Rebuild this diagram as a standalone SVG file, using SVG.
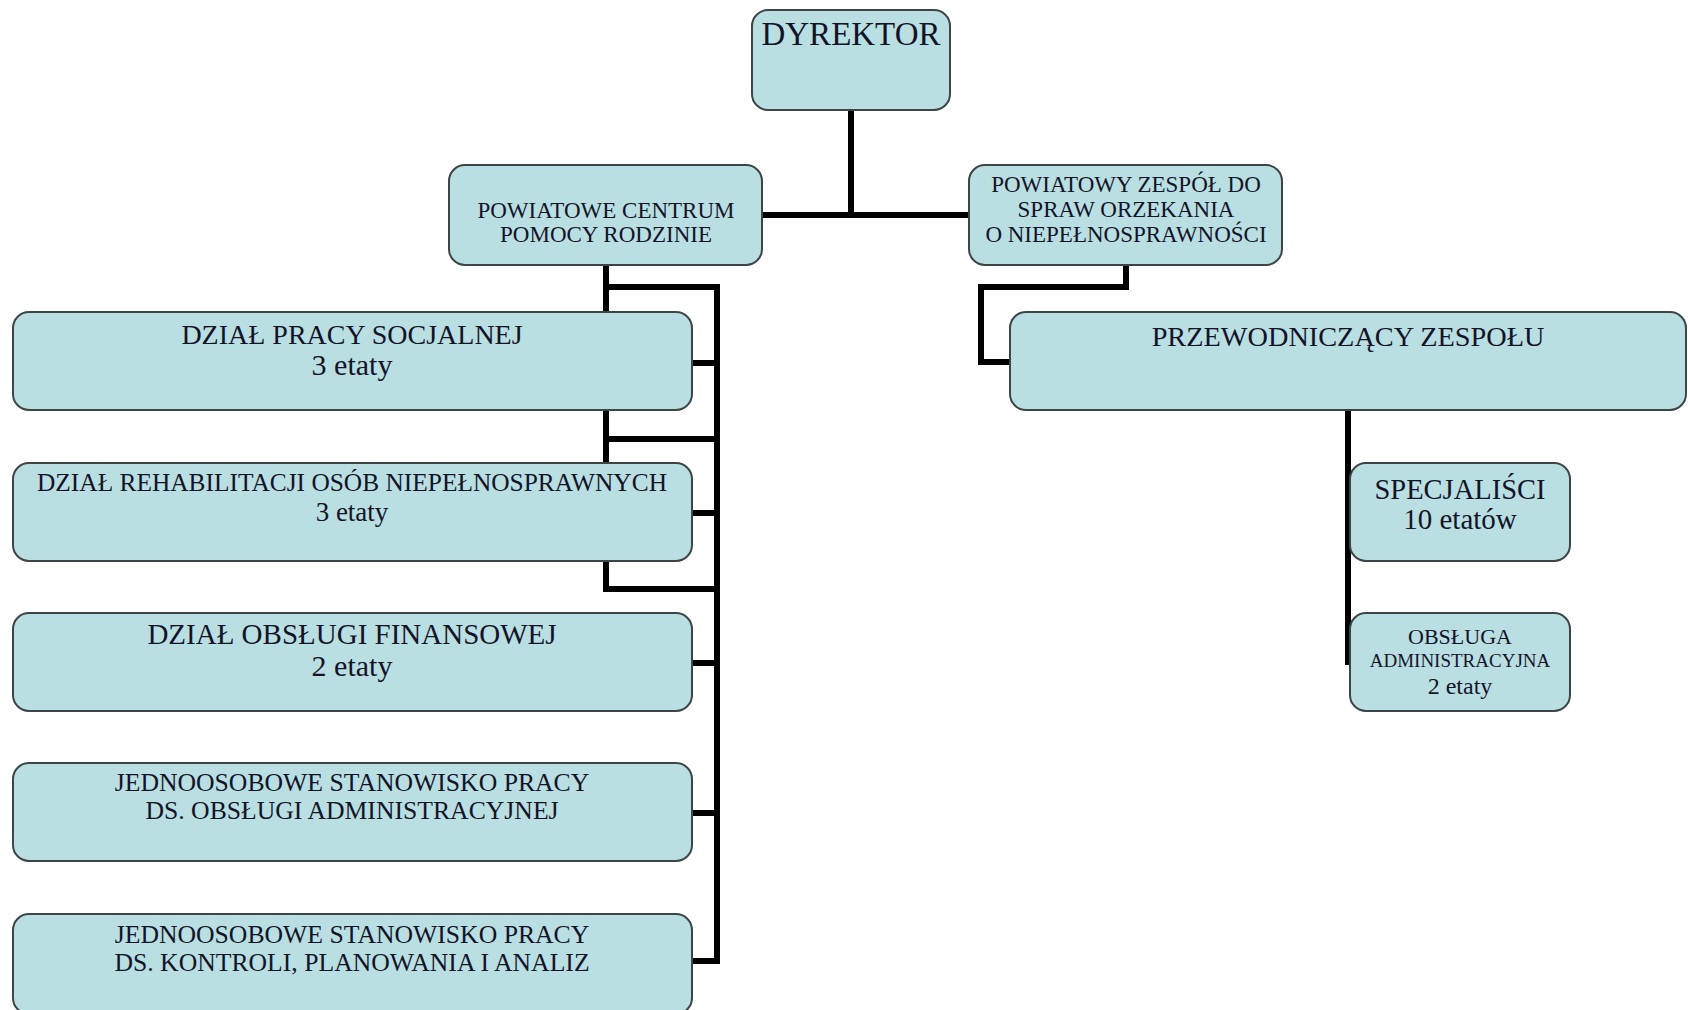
<svg xmlns="http://www.w3.org/2000/svg" width="1688" height="1010" viewBox="0 0 1688 1010">
<style>
.box{fill:#b9dfe3;stroke:#3d4547;stroke-width:2}
.t{font-family:"Liberation Serif","Times New Roman",serif;fill:#141428;text-anchor:middle}
.c{fill:none;stroke:#000;stroke-width:6;stroke-linejoin:miter;stroke-linecap:butt}
</style>
<rect width="1688" height="1010" fill="#fff"/>
<g id="connectors">
<path class="c" d="M851 110 V215 M762 215 H969"/>
<path class="c" d="M606 265 V589 M603 287 H717 M603 439 H717 M603 589 H717 M717 284 V964"/>
<path class="c" d="M692 363 H717 M692 513 H717 M692 663 H717 M692 813 H717 M692 961 H720"/>
<path class="c" d="M1126 265 V287 H981 V362 H1010"/>
<path class="c" d="M1348 410 V665"/>
</g>
<g id="dyrektor"><rect class="box" x="752" y="10" width="198" height="100" rx="16"/><text class="t" x="851" y="45" font-size="33">DYREKTOR</text></g>
<g id="pcpr"><rect class="box" x="449" y="165" width="313" height="100" rx="16"/><text class="t" x="606" y="218" font-size="23">POWIATOWE CENTRUM</text><text class="t" x="606" y="242" font-size="23">POMOCY RODZINIE</text></g>
<g id="pzon"><rect class="box" x="969" y="165" width="313" height="100" rx="16"/><text class="t" x="1126" y="192" font-size="23">POWIATOWY ZESPÓŁ DO</text><text class="t" x="1126" y="217" font-size="23">SPRAW ORZEKANIA</text><text class="t" x="1126" y="242" font-size="23">O NIEPEŁNOSPRAWNOŚCI</text></g>
<g id="dps"><rect class="box" x="13" y="312" width="679" height="98" rx="16"/><text class="t" x="352" y="344" font-size="28">DZIAŁ PRACY SOCJALNEJ</text><text class="t" x="352" y="375" font-size="30">3 etaty</text></g>
<g id="dr"><rect class="box" x="13" y="463" width="679" height="98" rx="16"/><text class="t" x="352" y="491" font-size="25.4">DZIAŁ REHABILITACJI OSÓB NIEPEŁNOSPRAWNYCH</text><text class="t" x="352" y="521" font-size="27">3 etaty</text></g>
<g id="dof"><rect class="box" x="13" y="613" width="679" height="98" rx="16"/><text class="t" x="352" y="644" font-size="29">DZIAŁ OBSŁUGI FINANSOWEJ</text><text class="t" x="352" y="676" font-size="30">2 etaty</text></g>
<g id="j1"><rect class="box" x="13" y="763" width="679" height="98" rx="16"/><text class="t" x="352" y="791" font-size="25.7">JEDNOOSOBOWE STANOWISKO PRACY</text><text class="t" x="352" y="819" font-size="25.7">DS. OBSŁUGI ADMINISTRACYJNEJ</text></g>
<g id="j2"><rect class="box" x="13" y="914" width="679" height="100" rx="16"/><text class="t" x="352" y="943" font-size="25.7">JEDNOOSOBOWE STANOWISKO PRACY</text><text class="t" x="352" y="971" font-size="25.7">DS. KONTROLI, PLANOWANIA I ANALIZ</text></g>
<g id="pz"><rect class="box" x="1010" y="312" width="676" height="98" rx="16"/><text class="t" x="1348" y="346" font-size="28.3">PRZEWODNICZĄCY ZESPOŁU</text></g>
<g id="spec"><rect class="box" x="1350" y="463" width="220" height="98" rx="16"/><text class="t" x="1460" y="499" font-size="28.5">SPECJALIŚCI</text><text class="t" x="1460" y="529" font-size="29">10 etatów</text></g>
<g id="obs"><rect class="box" x="1350" y="613" width="220" height="98" rx="16"/><text class="t" x="1460" y="644" font-size="22">OBSŁUGA</text><text class="t" x="1460" y="667" font-size="19">ADMINISTRACYJNA</text><text class="t" x="1460" y="694" font-size="24">2 etaty</text></g>
</svg>
